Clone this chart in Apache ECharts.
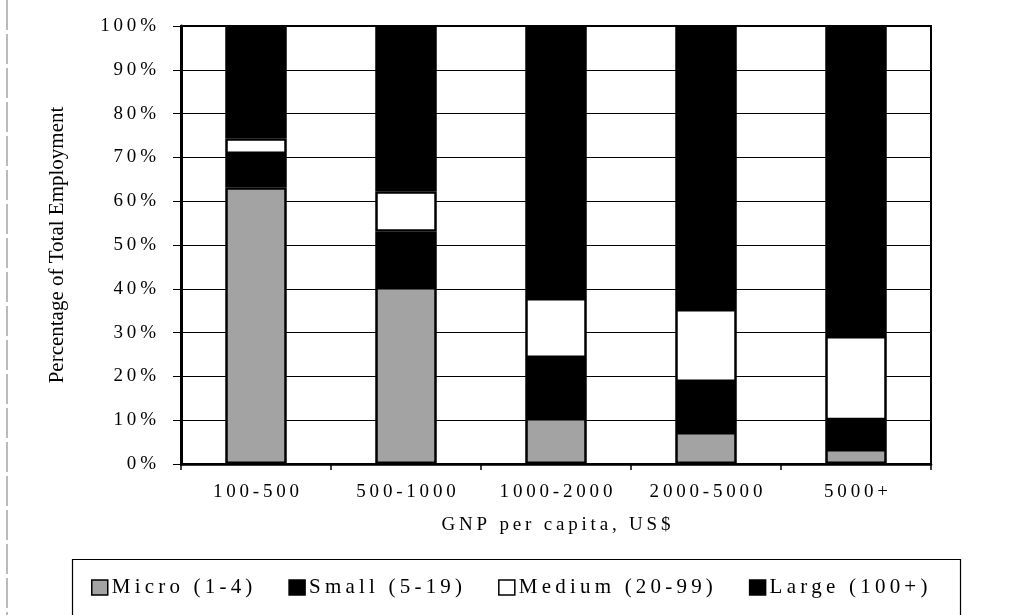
<!DOCTYPE html>
<html>
<head>
<meta charset="utf-8">
<script src="https://cdn.jsdelivr.net/npm/echarts@6/dist/echarts.min.js"></script>
<style>html,body{margin:0;padding:0;background:#fff;}#c{width:1009px;height:615px;}</style>
</head>
<body>
<div id="c"></div>
<script>
var categories = ['100-500', '500-1000', '1000-2000', '2000-5000', '5000+'];
var micro  = [63.2, 40.4, 10.5, 7.3, 3.4];
var small  = [7.6, 12.6, 13.7, 11.4, 6.6];
var medium = [3.6, 9.3, 13.7, 16.7, 19.2];
var large  = [25.6, 37.7, 62.1, 64.6, 70.8];
var seriesNames = ['Micro (1-4)', 'Small (5-19)', 'Medium (20-99)', 'Large (100+)'];
var yTicks = {min: 0, max: 100, interval: 10};

var FONT = '"Liberation Serif", "Times New Roman", serif';
// the original typesetting is letter-spaced; emulate with thin spaces
function spaced(s) { return String(s).split('').join('\u2009'); }

var chart = echarts.init(document.getElementById('c'));

function mk(name, data, color) {
  return {
    name: name, type: 'bar', stack: 'total', data: data,
    barWidth: '41%',
    itemStyle: {color: color, borderColor: '#000', borderWidth: 2.5},
    emphasis: {disabled: true}
  };
}

chart.setOption({
  animation: false,
  backgroundColor: '#fff',
  grid: {left: 181, right: 78, top: 26, bottom: 151, show: true, borderColor: '#000', borderWidth: 2, backgroundColor: 'transparent'},
  xAxis: {
    type: 'category', data: categories,
    name: spaced('GNP per capita, US$'), nameLocation: 'middle', nameGap: 52,
    nameTextStyle: {fontFamily: FONT, fontSize: 19, color: '#000'},
    axisLine: {lineStyle: {color: '#000', width: 2.5}},
    axisTick: {show: true, length: 6, lineStyle: {color: '#000', width: 1.5}},
    axisLabel: {fontFamily: FONT, fontSize: 19, color: '#000', margin: 19, formatter: function (v) { return spaced(v); }}
  },
  yAxis: {
    type: 'value', min: yTicks.min, max: yTicks.max, interval: yTicks.interval,
    name: 'Percentage of Total Employment', nameLocation: 'middle', nameGap: 113, nameRotate: 90,
    nameTextStyle: {fontFamily: FONT, fontSize: 21, color: '#000'},
    axisLine: {show: true, lineStyle: {color: '#000', width: 3}},
    axisTick: {show: true, length: 8, lineStyle: {color: '#000', width: 1}},
    axisLabel: {fontFamily: FONT, fontSize: 19, color: '#000', margin: 25, formatter: function (v) { return spaced(v + '%'); }},
    splitLine: {show: true, lineStyle: {color: '#000', width: 1}}
  },
  legend: {
    data: seriesNames.map(function (n) { return {name: n, icon: 'rect'}; }),
    left: 86, top: 572,
    itemWidth: 16, itemHeight: 15, itemGap: 36,
    formatter: function (n) { return spaced(n); },
    textStyle: {fontFamily: FONT, fontSize: 21, color: '#000', padding: [0, 0, 0, -1]},
    itemStyle: {borderColor: '#000', borderWidth: 1.5},
    selectedMode: false
  },
  graphic: [
    {type: 'rect', left: 70, top: 557, shape: {width: 888, height: 56}, style: {fill: 'none', stroke: '#000', lineWidth: 1.2}, silent: true},
    {type: 'line', shape: {x1: 7, y1: 0, x2: 7, y2: 615}, style: {stroke: '#777', lineWidth: 1, lineDash: [30, 4]}, silent: true}
  ],
  series: [
    mk(seriesNames[0], micro, '#a3a3a3'),
    mk(seriesNames[1], small, '#000'),
    mk(seriesNames[2], medium, '#fff'),
    mk(seriesNames[3], large, '#000')
  ]
});
</script>
</body>
</html>
